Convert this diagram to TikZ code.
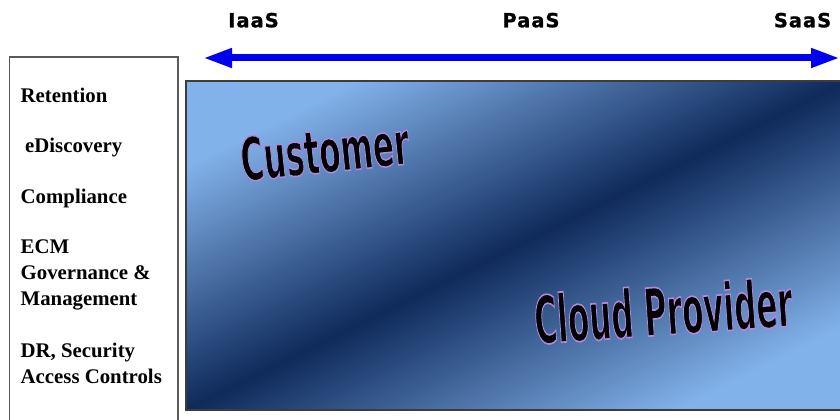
\documentclass[tikz,border=0pt]{standalone}
\usepackage{fontspec}
\setmainfont{Liberation Serif}
\newfontfamily\labelfont[LetterSpace=5, BoldFeatures={FakeBold=1}]{DejaVu Sans}
\newfontfamily\bannerfont[BoldFeatures={FakeBold=2.5}]{DejaVu Sans}
\usetikzlibrary{arrows.meta}

\definecolor{skylight}{HTML}{82B2EA}
\definecolor{navydark}{HTML}{0F2A5B}
\definecolor{arrowblue}{HTML}{0000F0}
\definecolor{rimgray}{HTML}{3C3C3C}
\definecolor{boxgray}{HTML}{5A5A5A}
\newcommand{\lilacstroke}{\special{pdf:code 0.71 0.53 0.88 RG}}

\pgfdeclareverticalshading{diagband}{100bp}{color(0bp)=(skylight); color(25bp)=(skylight); color(50bp)=(navydark); color(75bp)=(skylight); color(100bp)=(skylight)}

\tikzset{
  toplabel/.style={font=\labelfont\bfseries\fontsize{19.5}{22}\selectfont, inner sep=0pt, anchor=base},
  itemlabel/.style={font=\bfseries\fontsize{20.8}{26}\selectfont, inner sep=0pt, anchor=base west},
  banner/.style={font=\bannerfont\bfseries\fontsize{#1}{#1}\selectfont, inner sep=0pt, anchor=base}
}

\begin{document}
\begin{tikzpicture}[x=1pt,y=1pt]
	\useasboundingbox (0,0) rectangle (840,420);
	\clip (0,0) rectangle (840,420);
	% left panel
	\draw[boxgray, line width=1.2pt] (9.5,-5) rectangle (178,363);
	\node[itemlabel] (retention) at (20.5,317) {Retention};
	\node[itemlabel] (ediscovery) at (25,267) {eDiscovery};
	\node[itemlabel] (compliance) at (20.5,216) {Compliance};
	\node[itemlabel] (ecm) at (20.5,166) {ECM};
	\node[itemlabel] (governance) at (20.5,140) {Governance \&};
	\node[itemlabel] (management) at (20.5,114) {Management};
	\node[itemlabel] (drsec) at (20.5,62) {DR, Security};
	\node[itemlabel] (access) at (20.5,36) {Access Controls};
	% shaded area
	\draw[rimgray, line width=1.5pt, shading=diagband, shading angle=26.5] (186,10) rectangle (846,339);
	\node[banner=60, rotate=6] (customer) at (327,247.5) {\lilacstroke\scalebox{0.52}[1]{Customer}};
	\node[banner=66, rotate=4] (provider) at (665,85) {\lilacstroke\scalebox{0.47}[1]{Cloud Provider}};
	% service scale
	\node[toplabel] (iaas) at (253.5,392.7) {IaaS};
	\node[toplabel] (paas) at (531,392.7) {PaaS};
	\node[toplabel] (saas) at (802.5,392.7) {SaaS};
	\coordinate (arrowL) at (203,362);
	\coordinate (arrowR) at (840,362);
	\draw[arrowblue, line width=7pt, {Triangle[length=29pt,width=18pt]}-{Triangle[length=29pt,width=18pt]}] (arrowL) -- (arrowR);
\end{tikzpicture}
\end{document}
